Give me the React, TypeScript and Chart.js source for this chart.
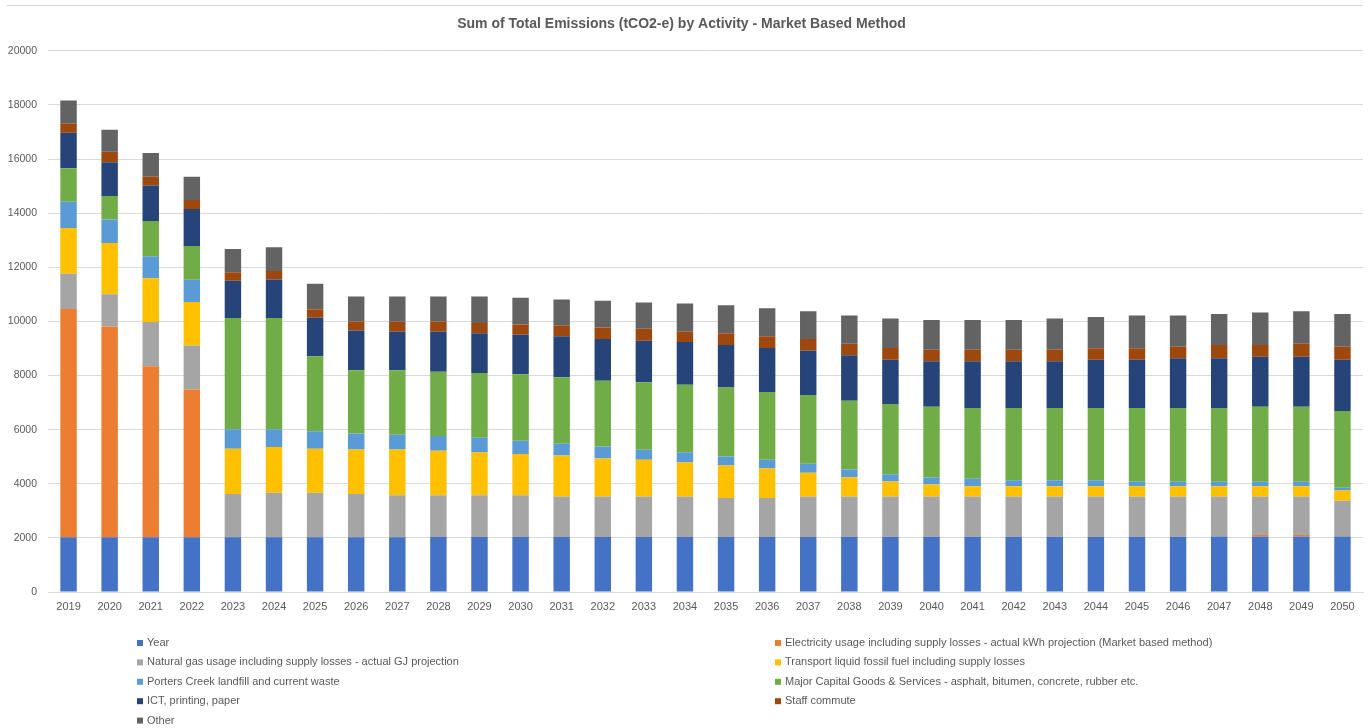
import React, { useEffect, useRef } from "react";
import { Chart, registerables } from "chart.js";

Chart.register(...registerables);

const categories = ["2019","2020","2021","2022","2023","2024","2025","2026","2027","2028","2029","2030","2031","2032","2033","2034","2035","2036","2037","2038","2039","2040","2041","2042","2043","2044","2045","2046","2047","2048","2049","2050"];

const yearSeries = [2019,2020,2021,2022,2023,2024,2025,2026,2027,2028,2029,2030,2031,2032,2033,2034,2035,2036,2037,2038,2039,2040,2041,2042,2043,2044,2045,2046,2047,2048,2049,2050];
const electricity = [8441,7796,6322,5462,0,0,0,0,0,0,0,0,0,0,0,0,0,0,0,0,0,0,0,0,0,0,0,0,0,55,55,0];
const naturalGas = [1297,1189,1632,1621,1594,1641,1640,1600,1547,1546,1545,1544,1495,1494,1493,1499,1436,1435,1496,1495,1494,1493,1492,1491,1490,1489,1488,1487,1486,1430,1429,1325];
const transport = [1694,1894,1620,1613,1680,1694,1632,1643,1695,1647,1584,1526,1522,1411,1363,1252,1203,1093,873,711,552,442,379,379,379,379,379,379,379,379,379,379];
const porters = [969,869,810,818,714,652,640,589,542,542,542,490,431,443,369,379,332,320,331,283,269,258,273,221,221,221,162,162,162,162,162,99];
const majorCapital = [1241,862,1304,1252,4111,4111,2774,2337,2384,2380,2395,2457,2458,2431,2494,2491,2551,2503,2539,2539,2591,2613,2613,2665,2665,2665,2724,2724,2724,2772,2772,2834];
const ict = [1311,1252,1312,1363,1377,1425,1425,1473,1422,1474,1463,1459,1510,1537,1533,1583,1571,1630,1642,1682,1642,1681,1729,1729,1729,1789,1789,1839,1839,1851,1851,1900];
const staffCommute = [331,391,320,332,317,320,317,332,368,383,379,383,391,431,442,379,430,431,430,428,430,428,428,428,428,419,419,429,491,431,479,479];
const other = [863,810,884,858,862,870,936,921,936,921,984,981,972,980,973,1046,1042,1042,1031,1045,1093,1093,1093,1093,1155,1152,1215,1155,1141,1203,1203,1203];

const seriesLabels = [
  "Year",
  "Electricity usage including supply losses - actual kWh projection (Market based method)",
  "Natural gas usage including supply losses - actual GJ projection",
  "Transport liquid fossil fuel including supply losses",
  "Porters Creek landfill and current waste",
  "Major Capital Goods & Services - asphalt, bitumen, concrete, rubber etc.",
  "ICT, printing, paper",
  "Staff commute",
  "Other",
];
const seriesColors = ["#4472C4","#ED7D31","#A5A5A5","#FFC000","#5B9BD5","#70AD47","#264478","#9E480E","#636363"];
const seriesData = [yearSeries, electricity, naturalGas, transport, porters, majorCapital, ict, staffCommute, other];

const FONT = "'Liberation Sans', Arial, sans-serif";
const TEXT_COLOR = "#595959";

const decorPlugin = {
  id: "decorAndLegend",
  afterDraw(chart: any) {
    const ctx = chart.ctx;
    ctx.save();
    // faint top border line
    ctx.strokeStyle = "#d9d9d9";
    ctx.lineWidth = 1;
    ctx.beginPath();
    ctx.moveTo(7, 5.5);
    ctx.lineTo(chart.chartArea.right, 5.5);
    ctx.stroke();
    // two-column legend
    ctx.font = `11px ${FONT}`;
    ctx.textBaseline = "middle";
    chart.data.datasets.forEach((ds: any, i: number) => {
      const col = i % 2;
      const row = Math.floor(i / 2);
      const x = col === 0 ? 137 : 775;
      const y = 643 + row * 19.4;
      ctx.fillStyle = ds.backgroundColor;
      ctx.fillRect(x, y - 3, 6, 6);
      ctx.fillStyle = TEXT_COLOR;
      ctx.fillText(ds.label, x + 10, y);
    });
    ctx.restore();
  },
};

export default function App() {
  const canvasRef = useRef<HTMLCanvasElement | null>(null);

  useEffect(() => {
    if (!canvasRef.current) return;
    const chart = new Chart(canvasRef.current, {
      type: "bar",
      data: {
        labels: categories,
        datasets: seriesLabels.map((label, i) => ({
          label,
          data: seriesData[i],
          backgroundColor: seriesColors[i],
          borderWidth: 0,
          barPercentage: 0.4,
          categoryPercentage: 1,
        })),
      },
      options: {
        responsive: false,
        animation: false,
        maintainAspectRatio: false,
        layout: { padding: { left: 0, right: 7, top: 0, bottom: 0 } },
        plugins: {
          legend: { display: false },
          tooltip: { enabled: false },
          title: {
            display: true,
            text: "Sum of Total Emissions (tCO2-e) by Activity - Market Based Method",
            color: TEXT_COLOR,
            font: { family: FONT, size: 14, weight: "bold" },
            padding: { top: 16, bottom: 18 },
          },
        },
        scales: {
          x: {
            stacked: true,
            grid: { display: false, drawTicks: false },
            border: { display: true, color: "#d9d9d9" },
            ticks: { color: TEXT_COLOR, font: { family: FONT, size: 11 }, padding: 8, maxRotation: 0, autoSkip: false },
            afterFit: (scale: any) => { scale.height = 136; },
          },
          y: {
            stacked: true,
            min: 0,
            max: 20000,
            grid: { color: "#d9d9d9", drawTicks: false },
            border: { display: false },
            ticks: {
              stepSize: 2000,
              color: TEXT_COLOR,
              font: { family: FONT, size: 10.5 },
              padding: 11,
              callback: (v: any) => String(v),
            },
            afterFit: (scale: any) => { scale.width = 48; },
          },
        },
      },
      plugins: [decorPlugin],
    });
    return () => chart.destroy();
  }, []);

  return (
    <div style={{ position: "fixed", left: 0, top: 0, width: 1370, height: 728, background: "#fff" }}>
      <canvas ref={canvasRef} width={1370} height={728} style={{ width: 1370, height: 728, display: "block" }} />
    </div>
  );
}
